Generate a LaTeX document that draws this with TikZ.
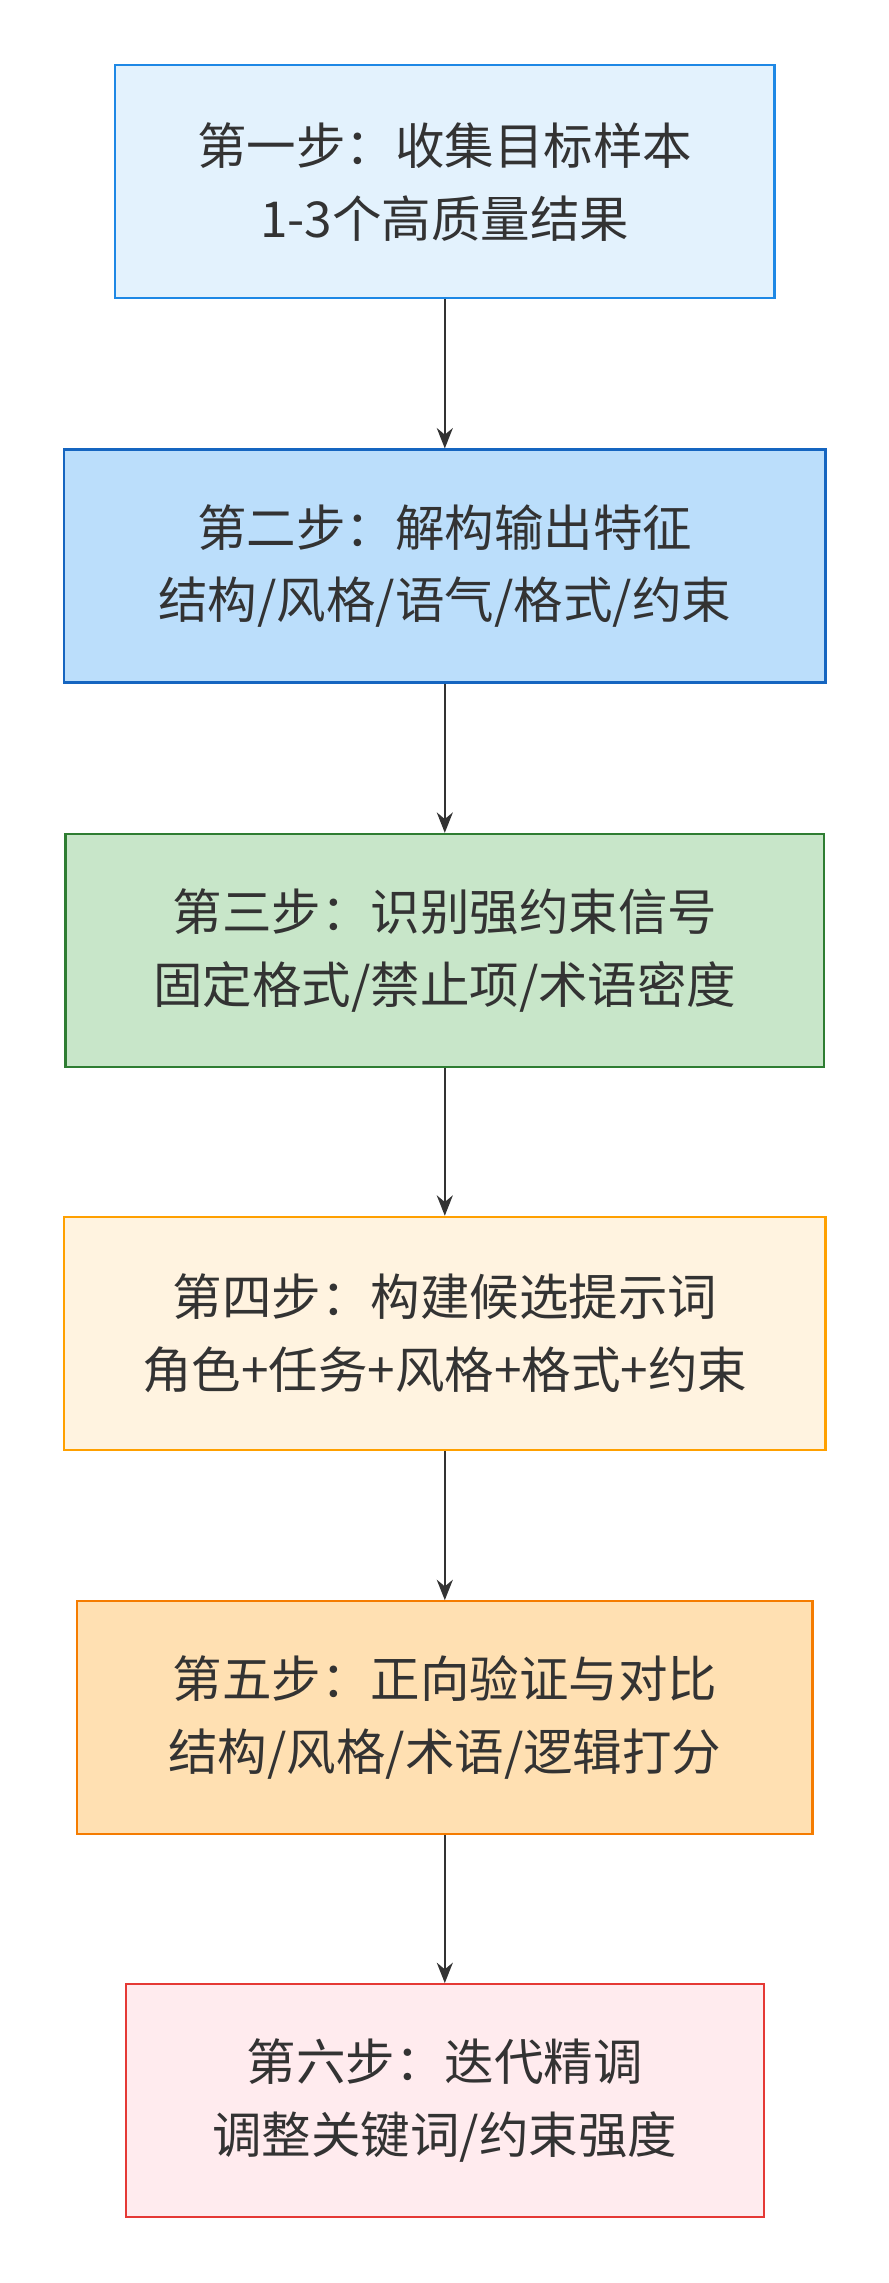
\documentclass[tikz,border=0pt]{standalone}
\usepackage{fontspec}
\setmainfont{Noto Sans CJK SC}
\usetikzlibrary{arrows.meta}
\definecolor{tx}{HTML}{333333}
\definecolor{f1}{HTML}{E3F2FD}\definecolor{d1}{HTML}{1E88E5}
\definecolor{f2}{HTML}{BBDEFB}\definecolor{d2}{HTML}{1565C0}
\definecolor{f3}{HTML}{C8E6C9}\definecolor{d3}{HTML}{2E7D32}
\definecolor{f4}{HTML}{FFF3E0}\definecolor{d4}{HTML}{FFA000}
\definecolor{f5}{HTML}{FFE0B2}\definecolor{d5}{HTML}{F57C00}
\definecolor{f6}{HTML}{FFEBEE}\definecolor{d6}{HTML}{E53935}
\tikzset{
 stepbox/.style={draw, line width=1.6pt, minimum height=160pt, align=center, text=tx, font=\fontsize{34}{50}\selectfont, anchor=north},
 conn/.style={draw=tx, line width=1.6pt, -{Stealth[length=14pt,width=11pt]}}
}
\begin{document}
\begin{tikzpicture}[x=1pt,y=-1pt]
\useasboundingbox (0,0) rectangle (610,1568);
\node[stepbox, fill=f1, draw=d1, minimum width=453pt] (s1) at (305.5,44) {第一步：收集目标样本\\1-3个高质量结果};
\node[stepbox, fill=f2, draw=d2, minimum width=523pt] (s2) at (305.5,308) {第二步：解构输出特征\\结构/风格/语气/格式/约束};
\node[stepbox, fill=f3, draw=d3, minimum width=521pt] (s3) at (305.5,572) {第三步：识别强约束信号\\固定格式/禁止项/术语密度};
\node[stepbox, fill=f4, draw=d4, minimum width=523pt] (s4) at (305.5,835) {第四步：构建候选提示词\\角色+任务+风格+格式+约束};
\node[stepbox, fill=f5, draw=d5, minimum width=505pt] (s5) at (305.5,1099) {第五步：正向验证与对比\\结构/风格/术语/逻辑打分};
\node[stepbox, fill=f6, draw=d6, minimum width=438pt] (s6) at (305.5,1362) {第六步：迭代精调\\调整关键词/约束强度};
\draw[conn] (s1) -- (s2);
\draw[conn] (s2) -- (s3);
\draw[conn] (s3) -- (s4);
\draw[conn] (s4) -- (s5);
\draw[conn] (s5) -- (s6);
\end{tikzpicture}
\end{document}
